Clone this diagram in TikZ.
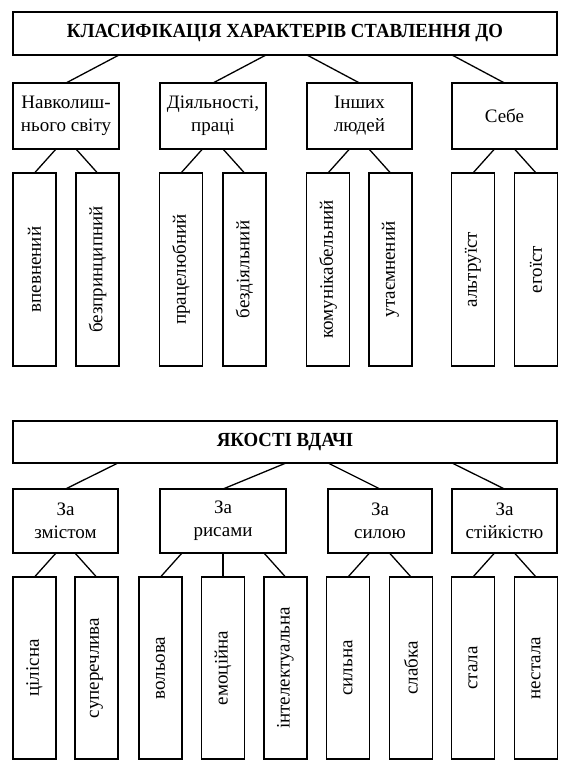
\documentclass[tikz,border=0pt]{standalone}
\usepackage{fontspec}
\setmainfont{Liberation Serif}
\newfontfamily\titlefont[FakeStretch=0.94]{Liberation Serif}
\begin{document}
\begin{tikzpicture}[x=1pt,y=-1pt,
  box/.style={draw, line width=1.3pt, inner sep=0pt, outer sep=0pt, align=center},
  titlebox/.style={box, minimum width=544pt, font=\titlefont\bfseries\fontsize{20}{24}\selectfont},
  midbox/.style={box, font=\fontsize{19}{23}\selectfont},
  leafbox/.style={box, minimum width=43pt, font=\fontsize{19}{23}\selectfont},
  conn/.style={line width=1.3pt}]
\useasboundingbox (0,0) rectangle (571,772);
\fill[white] (0,0) rectangle (571,772);

% ---------- Section 1 ----------
\node[titlebox, minimum height=43pt] (t1) at (285,33.5) {КЛАСИФІКАЦІЯ ХАРАКТЕРІВ СТАВЛЕННЯ ДО};

\node[midbox, minimum width=106pt, minimum height=66pt] (a1) at (66,116) {Навколиш-\\нього світу};
\node[midbox, minimum width=106pt, minimum height=66pt] (a2) at (213,116) {Діяльності,\\праці};
\node[midbox, minimum width=105pt, minimum height=66pt] (a3) at (359.5,116) {Інших\\людей};
\node[midbox, minimum width=105pt, minimum height=66pt] (a4) at (504.5,116) {Себе};

\node[leafbox, minimum height=193pt] (b1) at (34.5,269.5) {\rotatebox{90}{впевнений}};
\node[leafbox, minimum height=193pt] (b2) at (97.5,269.5) {\rotatebox{90}{безпринципний}};
\node[leafbox, minimum height=193pt] (b3) at (181,269.5) {\rotatebox{90}{працелюбний}};
\node[leafbox, minimum height=193pt] (b4) at (244.5,269.5) {\rotatebox{90}{бездіяльний}};
\node[leafbox, minimum height=193pt] (b5) at (328,269.5) {\rotatebox{90}{комунікабельний}};
\node[leafbox, minimum height=193pt] (b6) at (390.5,269.5) {\rotatebox{90}{утаємнений}};
\node[leafbox, minimum height=193pt] (b7) at (473,269.5) {\rotatebox{90}{альтруїст}};
\node[leafbox, minimum height=193pt] (b8) at (536,269.5) {\rotatebox{90}{егоїст}};

\draw[conn] (t1.south -| a1.east) -- (a1.north);
\draw[conn] (t1.south -| a2.east) -- (a2.north);
\draw[conn] (t1.south -| a3.west) -- (a3.north);
\draw[conn] (t1.south -| a4.west) -- (a4.north);

\draw[conn] (a1.south -| b1.east) -- (b1.north);
\draw[conn] (a1.south -| b2.west) -- (b2.north);
\draw[conn] (a2.south -| b3.east) -- (b3.north);
\draw[conn] (a2.south -| b4.west) -- (b4.north);
\draw[conn] (a3.south -| b5.east) -- (b5.north);
\draw[conn] (a3.south -| b6.west) -- (b6.north);
\draw[conn] (a4.south -| b7.east) -- (b7.north);
\draw[conn] (a4.south -| b8.west) -- (b8.north);

% ---------- Section 2 ----------
\node[titlebox, minimum height=42pt] (t2) at (285,442) {ЯКОСТІ ВДАЧІ};

\node[midbox, minimum width=105pt, minimum height=64pt] (c1) at (65.5,521) {За\\змістом};
\node[midbox, minimum width=126pt, minimum height=64pt] (c2) at (223,521) {За\\рисами};
\node[midbox, minimum width=104pt, minimum height=64pt] (c3) at (380,521) {За\\силою};
\node[midbox, minimum width=105pt, minimum height=64pt] (c4) at (504.5,521) {За\\стійкістю};

\node[leafbox, minimum height=182pt] (d1) at (34.5,668) {\rotatebox{90}{цілісна}};
\node[leafbox, minimum height=182pt] (d2) at (96.5,668) {\rotatebox{90}{суперечлива}};
\node[leafbox, minimum height=182pt] (d3) at (160.5,668) {\rotatebox{90}{вольова}};
\node[leafbox, minimum height=182pt] (d4) at (223,668) {\rotatebox{90}{емоційна}};
\node[leafbox, minimum height=182pt] (d5) at (285.5,668) {\rotatebox{90}{інтелектуальна}};
\node[leafbox, minimum height=182pt] (d6) at (348,668) {\rotatebox{90}{сильна}};
\node[leafbox, minimum height=182pt] (d7) at (411,668) {\rotatebox{90}{слабка}};
\node[leafbox, minimum height=182pt] (d8) at (473,668) {\rotatebox{90}{стала}};
\node[leafbox, minimum height=182pt] (d9) at (536,668) {\rotatebox{90}{нестала}};

\draw[conn] (t2.south -| c1.east) -- (c1.north);
\draw[conn] (t2.south -| c2.east) -- (c2.north);
\draw[conn] (t2.south -| c3.west) -- (c3.north);
\draw[conn] (t2.south -| c4.west) -- (c4.north);

\draw[conn] (c1.south -| d1.east) -- (d1.north);
\draw[conn] (c1.south -| d2.west) -- (d2.north);
\draw[conn] (c2.south -| d3.east) -- (d3.north);
\draw[conn] (c2.south -| d4.north) -- (d4.north);
\draw[conn] (c2.south -| d5.west) -- (d5.north);
\draw[conn] (c3.south -| d6.east) -- (d6.north);
\draw[conn] (c3.south -| d7.west) -- (d7.north);
\draw[conn] (c4.south -| d8.east) -- (d8.north);
\draw[conn] (c4.south -| d9.west) -- (d9.north);
\end{tikzpicture}
\end{document}
